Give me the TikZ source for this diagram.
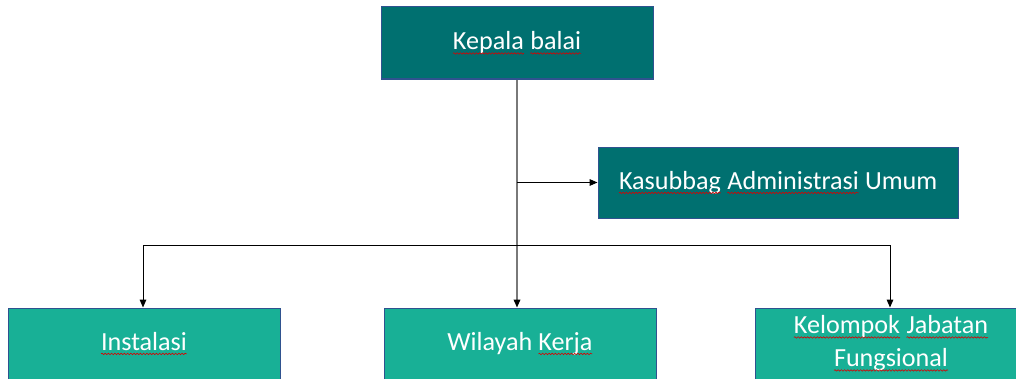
\documentclass[tikz,border=0pt]{standalone}
\usepackage{fontspec}
\setmainfont{Carlito}
\usetikzlibrary{arrows.meta,decorations.pathmorphing}
\definecolor{darkteal}{RGB}{0,112,112}
\definecolor{lightteal}{RGB}{24,176,150}
\definecolor{boxline}{RGB}{47,82,143}
\newcommand\sq[1]{\tikz[baseline=(w.base)]{\node[draw=none,fill=none,rectangle,inner sep=0pt,outer sep=0pt,minimum width=0pt,minimum height=0pt,text=white] (w) {#1};\draw[red!85!black,line width=0.45pt,decorate,decoration={snake,amplitude=0.55pt,segment length=2.4pt}] ([yshift=-2.8pt]w.base west) -- ([yshift=-2.8pt]w.base east);}}
\tikzset{
  orgbox/.style={rectangle,draw=boxline,line width=0.75pt,text=white,font=\fontsize{19.6pt}{24.75pt}\selectfont,align=center,minimum height=53.25pt,inner sep=0pt},
  topbox/.style={orgbox,fill=darkteal},
  lowbox/.style={orgbox,fill=lightteal,minimum width=204pt},
  tip/.style={-{Triangle[length=6pt,width=5pt,color=black]}},
  link/.style={line width=0.75pt,black},
  trunk/.style={line width=1.1pt,gray!95!black}
}
\begin{document}
\begin{tikzpicture}[x=0.75pt,y=-0.75pt]
\useasboundingbox (0,0) rectangle (1016,378);
\begin{scope}
\clip (0,0) rectangle (1016,378);
\node[topbox,minimum width=204pt,minimum height=54pt] (kb) at (517,43) {\sq{Kepala} \sq{balai}};
\node[topbox,minimum width=270pt] (ks) at (778,182.5) {\sq{Kasubbag} \sq{Administrasi} Umum};
\node[lowbox] (in) at (144,343.5) {\sq{Instalasi}};
\node[lowbox] (wk) at (520,343.5) {Wilayah \sq{Kerja}};
\node[lowbox] (kj) at (891,343.5) {\sq{Kelompok} \sq{Jabatan}\\\sq{Fungsional}};
\coordinate (jl) at (143,245);
\coordinate (jr) at (890,245);
\draw[trunk,tip] (kb.south) -- (kb.south |- wk.north);
\draw[link,tip] (kb.south |- ks.west) -- (ks.west);
\draw[link] (jl) -- (jr);
\draw[link,tip] (jl) -- (jl |- in.north);
\draw[link,tip] (jr) -- (jr |- kj.north);
\end{scope}
\end{tikzpicture}
\end{document}
